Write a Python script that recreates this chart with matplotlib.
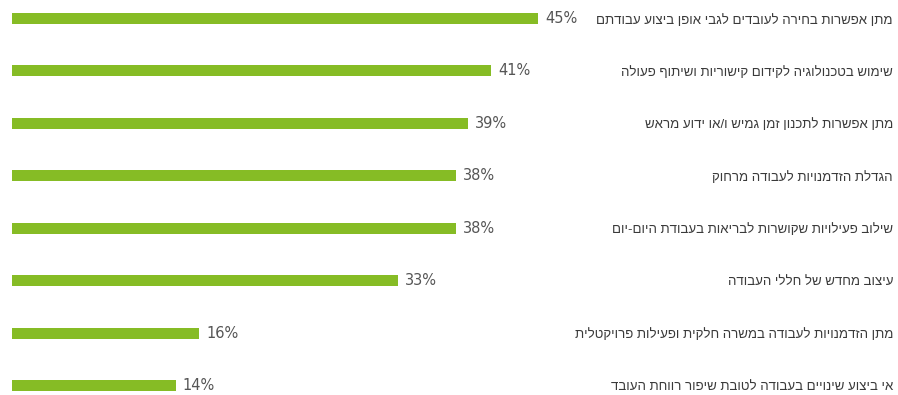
import matplotlib

matplotlib.use("Agg")

import matplotlib.pyplot as plt

plt.rcParams["font.family"] = ["Liberation Sans", "DejaVu Sans"]

# categories in reading order (top to bottom), logical Hebrew text
categories = [
    "מתן אפשרות בחירה לעובדים לגבי אופן ביצוע עבודתם",
    "שימוש בטכנולוגיה לקידום קישוריות ושיתוף פעולה",
    "מתן אפשרות לתכנון זמן גמיש ו/או ידוע מראש",
    "הגדלת הזדמנויות לעבודה מרחוק",
    "שילוב פעילויות שקושרות לבריאות בעבודת היום-יום",
    "עיצוב מחדש של חללי העבודה",
    "מתן הזדמנויות לעבודה במשרה חלקית ופעילות פרויקטלית",
    "אי ביצוע שינויים בעבודה לטובת שיפור רווחת העובד",
]
values = [45, 41, 39, 38, 38, 33, 16, 14]

BAR_COLOR = "#86BC25"
PCT_COLOR = "#555555"
LABEL_COLOR = "#3a3a3a"

W, H, DPI = 898, 395, 100
PX_PER_PCT = 11.69
ROW_PX = 52.43
FIRST_ROW_PX = 18.5


def rtl(text):
    # matplotlib has no bidi support, so lay the Hebrew out visually
    return text[::-1]


fig = plt.figure(figsize=(W / DPI, H / DPI), dpi=DPI, facecolor="white")
ax = fig.add_axes([0, 0, 1, 1])
ax.set_xlim(-12 / PX_PER_PCT, (W - 12) / PX_PER_PCT)
ax.set_ylim((H - FIRST_ROW_PX) / ROW_PX, -FIRST_ROW_PX / ROW_PX)
ax.axis("off")

ypos = list(range(len(categories)))
ax.barh(ypos, values, height=11 / ROW_PX, color=BAR_COLOR, zorder=2)

for y, v in zip(ypos, values):
    ax.text(v + 7 / PX_PER_PCT, y, f"{v}%", ha="left", va="center",
            fontsize=10.5, color=PCT_COLOR, family="DejaVu Sans")

label_tr = ax.get_yaxis_transform()
for y, cat in zip(ypos, categories):
    ax.text(893 / W, y + 0.03, rtl(cat), transform=label_tr, ha="right",
            va="center", fontsize=9.5, color=LABEL_COLOR)

fig.savefig("out.png", dpi=DPI, facecolor="white")
plt.close(fig)
